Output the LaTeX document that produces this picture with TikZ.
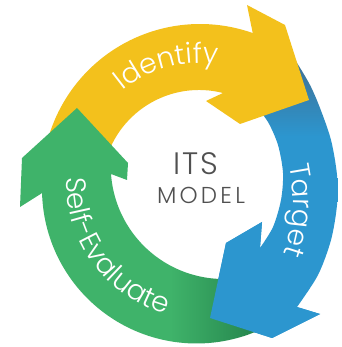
\documentclass[tikz,border=0pt]{standalone}
\usepackage{fontspec}
\setmainfont{Poppins}[UprightFont=* Light]
\usetikzlibrary{calc,decorations.text}
\definecolor{identyellow}{RGB}{243,193,28}
\definecolor{targetblue}{RGB}{44,150,207}
\definecolor{targetshade}{RGB}{60,118,158}
\definecolor{evalgreen}{RGB}{63,179,106}
\definecolor{evalshade}{RGB}{40,138,80}
\definecolor{modelgray}{RGB}{80,80,80}
\pgfdeclareverticalshading{targetfade}{100bp}{color(0bp)=(targetblue); color(60bp)=(targetblue); color(71bp)=(targetshade); color(100bp)=(targetshade)}
\pgfdeclarehorizontalshading{evalfade}{100bp}{color(0bp)=(evalgreen); color(56bp)=(evalgreen); color(72bp)=(evalshade); color(100bp)=(evalshade)}
\newcommand{\bandfont}{\fontsize{28}{28}\selectfont}

\begin{document}
\begin{tikzpicture}[x=1pt,y=1pt,
    band text/.style={decorate,decoration={text along path,text align=center,
        text color=white,text={|\bandfont|#1}}}]

    \fill[white] (0,0) rectangle (341,347);
    \useasboundingbox (0,0) rectangle (341,347);

    % Target
    \shade[shading=targetfade]
      plot[smooth] coordinates {(288,297) (297,284) (310,262) (320,239) (331,207) (337,172) (337,142) (331,107) (318,72) (297,40)}
      -- (320,33) -- (272,9) -- (210,29) -- (226,104) -- (262,125)
      -- plot[smooth] coordinates {(260,99) (273,120) (281,147) (283,174) (278,202) (268,225) (255,242)}
      -- cycle;

    % Identify
    \fill[identyellow] ($(200,165)+(168.7:158pt)$) arc[start angle=168.7,end angle=70.5,radius=158pt]
      -- (247,342) -- (285,322) -- (309,247) -- (240,223) -- (206,246)
      -- (223,254) arc[start angle=75.7,end angle=164.4,radius=97pt] -- cycle;

    % Self-Evaluate
    \shade[shading=evalfade]
      ($(196.5,158)+(-64.9:154.5pt)$) arc[start angle=-64.9,end angle=-178.5,radius=154.5pt]
      -- (20,140) -- (22,189) -- (77,239) -- (128,184) -- (127,167)
      -- (111,173) arc[start angle=-175.95,end angle=-85.9,radius=113pt] -- cycle;

    % Target head again, over the green tail
    \fill[targetblue] (297,40) -- (320,33) -- (272,9) -- (210,29) -- (226,104) -- (262,125) -- (260,99) -- cycle;

    \path[band text={Identify}] ($(200,162)+(140.5:122pt)$) arc[start angle=140.5,end angle=70.5,radius=122pt];
    \path[band text={Target}] ($(130,147)+(31.5:163pt)$) arc[start angle=31.5,end angle=-38.5,radius=163pt];
    \path[band text={Self-Evaluate}] ($(200,162)+(166:133pt)$) arc[start angle=166,end angle=266,radius=133pt];

    \node[text=modelgray,font=\fontsize{31}{31}\selectfont\addfontfeature{LetterSpace=6},anchor=base] (its) at (196,172) {ITS};
    \node[text=modelgray,font=\fontsize{23}{23}\selectfont\addfontfeature{LetterSpace=14},anchor=base] (model) at (201,143) {MODEL};

\end{tikzpicture}
\end{document}
